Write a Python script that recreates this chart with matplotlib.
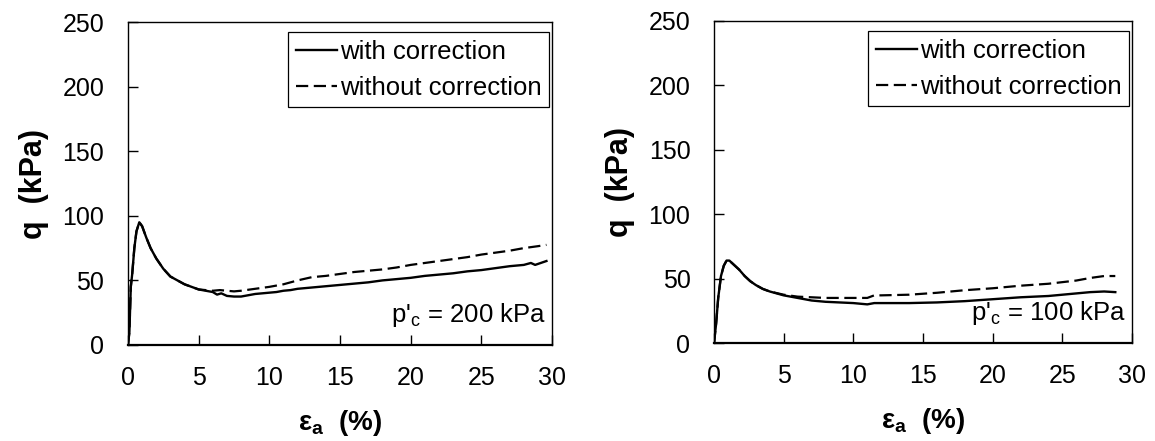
import matplotlib
matplotlib.use("Agg")
import matplotlib.pyplot as plt

plt.rcParams['font.family'] = ['Liberation Sans', 'DejaVu Sans']
plt.rcParams['mathtext.fontset'] = 'custom'
plt.rcParams['mathtext.rm'] = 'Liberation Sans'
plt.rcParams['mathtext.it'] = 'Liberation Sans'
plt.rcParams['mathtext.bf'] = 'Liberation Sans:bold'

# p'c = 200 kPa
strain_200 = [0, 0.1, 0.2, 0.3, 0.45, 0.6, 0.8, 1.0, 1.3, 1.6, 2.0, 2.5, 3.0, 3.5, 4.0,
              4.5, 5.0, 5.5, 6.0, 6.3, 6.6, 7.0, 7.5, 8.0, 8.5, 9.0, 9.5, 10, 10.5, 11,
              11.5, 12, 13, 14, 15, 16, 17, 18, 19, 20, 21, 22, 23, 24, 25, 26, 27, 28,
              28.5, 28.8, 29.2, 29.6]
q_with_200 = [0, 10, 45, 55, 75, 88, 95, 92, 83, 75, 67, 59, 53, 50, 47,
              45, 43, 42, 41, 39, 40, 38, 37.5, 37.5, 38.5, 39.5, 40, 40.5, 41, 42,
              42.5, 43.5, 44.5, 45.5, 46.5, 47.5, 48.5, 50, 51, 52, 53.5, 54.5, 55.5, 57, 58, 59.5, 61, 62,
              63.5, 62, 63.5, 65]
strain_200_nc = [0, 0.1, 0.2, 0.3, 0.45, 0.6, 0.8, 1.0, 1.3, 1.6, 2.0, 2.5, 3.0, 3.5, 4.0,
                 4.5, 5.0, 5.5, 6.0, 6.5, 7.0, 7.5, 8.0, 9.0, 10, 11, 12, 13, 14, 15, 16, 17,
                 18, 19, 20, 21, 22, 23, 24, 25, 26, 27, 28, 29, 29.6]
q_without_200 = [0, 10, 45, 55, 75, 88, 95, 92, 83, 75, 67, 59, 53, 50, 47,
                 45, 43, 42.5, 42, 42.5, 42, 41.5, 42, 43.5, 45, 47, 50, 52.5, 53.5, 55, 56.5, 57.5,
                 58.5, 60, 62, 63.5, 65, 66.5, 68, 70, 71.5, 73, 75, 76.5, 77.5]

# p'c = 100 kPa
strain_100 = [0, 0.15, 0.3, 0.5, 0.7, 0.9, 1.1, 1.4, 1.8, 2.2, 2.6, 3.0, 3.5, 4.0, 5, 6, 7, 8,
              9, 10, 11, 11.5, 12, 14, 16, 18, 20, 22, 24, 25, 26, 27, 28, 28.8]
q_with_100 = [0, 15, 35, 52, 60, 64, 64, 61, 57, 52, 48, 45, 42, 40, 37, 35, 33, 32,
              31.5, 31, 30, 31, 31, 31, 31.5, 32.5, 34, 35.5, 36.5, 37.5, 38.5, 39.5, 40, 39.5]
strain_100_nc = [0, 0.15, 0.3, 0.5, 0.7, 0.9, 1.1, 1.4, 1.8, 2.2, 2.6, 3.0, 3.5, 4.0, 5, 6, 7, 8,
                 9, 10, 11, 11.5, 12, 14, 16, 18, 20, 22, 24, 26, 27, 28, 28.8]
q_without_100 = [0, 15, 35, 52, 60, 64, 64, 61, 57, 52, 48, 45, 42, 40, 37.5, 36, 35.5, 35,
                 35, 35, 35, 37, 37, 37.5, 39, 41, 42.5, 44.5, 46, 48.5, 50.5, 52, 52]

panels = [
    ([0.1108, 0.2177, 0.3672, 0.7323], strain_200, q_with_200, strain_200_nc, q_without_200,
     "p'$_\\mathregular{c}$ = 200 kPa"),
    ([0.6182, 0.2222, 0.3619, 0.7302], strain_100, q_with_100, strain_100_nc, q_without_100,
     "p'$_\\mathregular{c}$ = 100 kPa"),
]

fig = plt.figure(figsize=(11.55, 4.41), dpi=100)
for rect, x1, y1, x2, y2, label in panels:
    ax = fig.add_axes(rect)
    ax.plot(x1, y1, color='black', lw=1.7, label='with correction')
    ax.plot(x2, y2, color='black', lw=1.6, dashes=(5.5, 2.5), label='without correction')
    ax.set_xlim(0, 30)
    ax.set_ylim(0, 250)
    ax.set_xticks(range(0, 31, 5))
    ax.set_yticks(range(0, 251, 50))
    ax.tick_params(direction='in', length=7, width=1, labelsize=18)
    ax.tick_params(axis='x', pad=15)
    ax.tick_params(axis='y', pad=17)
    for s in ['top', 'right', 'left']:
        ax.spines[s].set_linewidth(1.0)
    ax.spines['bottom'].set_linewidth(1.6)
    ax.set_xlabel('ε$_\\mathbf{a}$  (%)', fontsize=20, fontweight='bold', labelpad=13)
    ax.set_ylabel('q  (kPa)', fontsize=22, fontweight='bold', labelpad=10)
    leg = ax.legend(loc='upper right', bbox_to_anchor=(0.993, 0.968), fontsize=18.5, frameon=True,
                    fancybox=False, edgecolor='black', framealpha=1, handlelength=1.6,
                    handletextpad=0.1, borderpad=0.3, borderaxespad=0.0, labelspacing=0.45)
    leg.get_frame().set_linewidth(0.9)
    ax.text(0.985, 0.05, label, transform=ax.transAxes, ha='right', va='bottom', fontsize=18.5)

fig.savefig('out.png', dpi=100)
